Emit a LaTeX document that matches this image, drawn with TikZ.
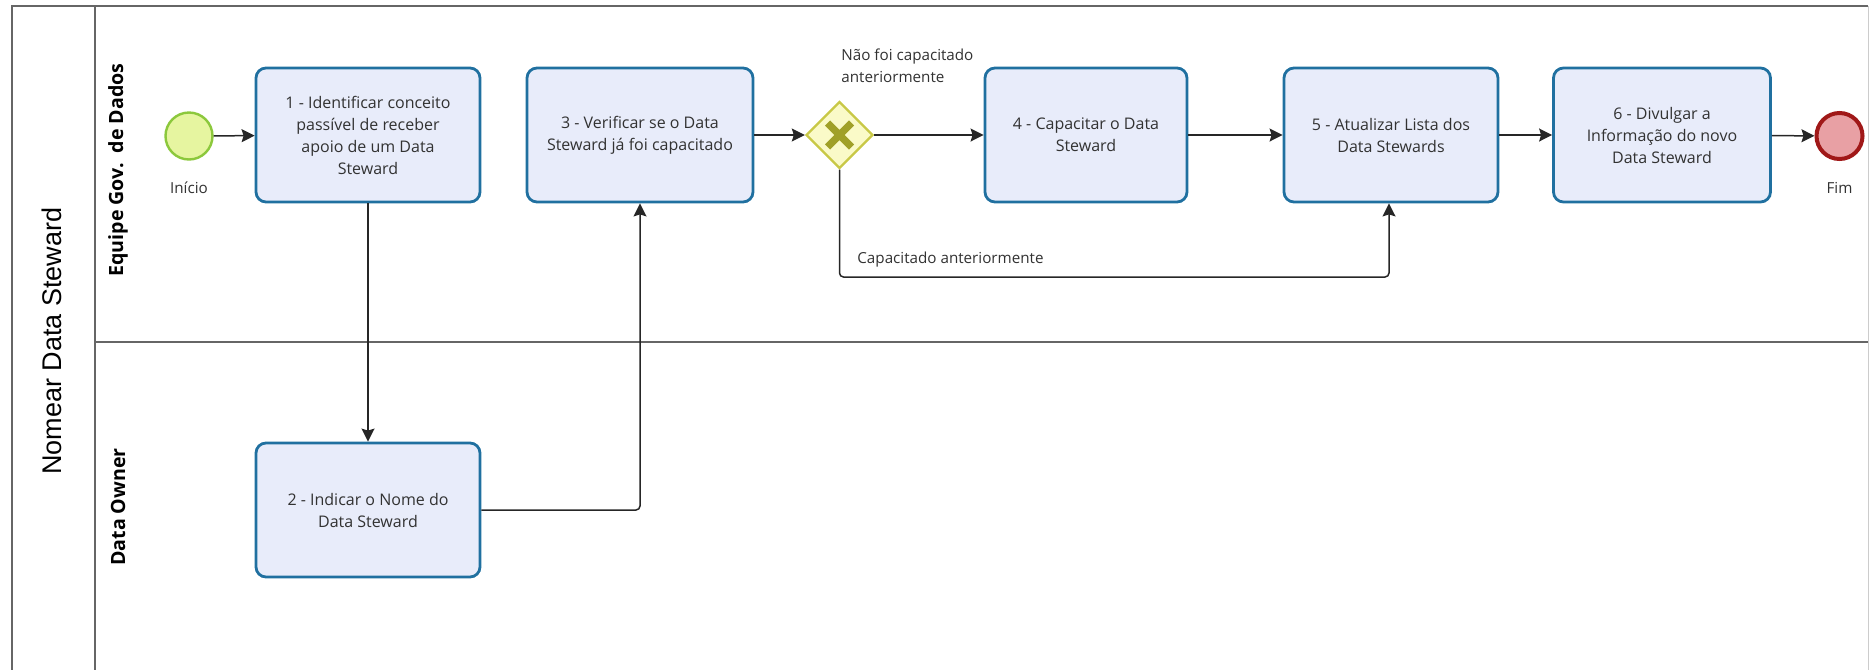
\documentclass[tikz,border=0pt]{standalone}
\usepackage{fontspec}
\setmainfont{Open Sans}
\newfontfamily\poolfont{Liberation Sans}
\usepackage{tikz}
\usetikzlibrary{positioning}
\usetikzlibrary{arrows.meta}
\usetikzlibrary{shapes.geometric}
\definecolor{taskfill}{RGB}{232,236,250}
\definecolor{taskline}{RGB}{32,112,160}
\definecolor{gwfill}{RGB}{250,250,200}
\definecolor{gwline}{RGB}{200,200,70}
\definecolor{gwmark}{RGB}{160,160,40}
\definecolor{startfill}{RGB}{230,245,160}
\definecolor{startline}{RGB}{140,200,60}
\definecolor{endfill}{RGB}{232,160,164}
\definecolor{endline}{RGB}{160,24,24}
\definecolor{txt}{RGB}{50,50,50}

\begin{document}
\begin{tikzpicture}[x=0.5pt,y=-0.5pt] %% bpmn pool, 1 unit = 1px
	\tikzstyle{pool}=[draw=black!60,line width=0.8pt]
	\tikzstyle{lane}=[rotate=90,font=\bfseries\fontsize{9.8}{12}\selectfont]
	\tikzstyle{task}=[draw=taskline,fill=taskfill,line width=1.4pt,rounded corners=5pt,minimum height=67pt,align=center,text=txt,font=\fontsize{8}{11}\selectfont]
	\tikzstyle{small}=[text=txt,font=\fontsize{7.6}{11}\selectfont]
	\tikzstyle{flow}=[draw=black!85,line width=0.75pt,rounded corners=2pt,-{Stealth[length=6.5pt,width=6.5pt,inset=1pt]}]
	\useasboundingbox (0,0) rectangle (1870,670);

	% pool and lanes
	\draw[pool] (1868,6) -- (12,6) -- (12,670);
	\draw[pool] (95,6) -- (95,670);
	\draw[pool] (95,342) -- (1868,342);
	\draw[black!20,line width=0.5pt] (1868,6) -- (1868,670);
	\node[rotate=90,font=\poolfont\fontsize{13.5}{16}\selectfont] (pool) at (52,341) {Nomear Data Steward};
	\node[lane] (laneA) at (118,170) {Equipe Gov.\ \ de Dados};
	\node[lane] (laneB) at (118,507) {Data Owner};

	% events and gateway
	\node[circle,draw=startline,fill=startfill,line width=1.2pt,minimum size=23.5pt,inner sep=0pt,
		label={[small,label distance=7pt]below:Início}] (start) at (189,136) {};
	\node[circle,draw=endline,fill=endfill,line width=2pt,minimum size=23pt,inner sep=0pt,
		label={[small,label distance=7pt]below:Fim}] (end) at (1839.5,136) {};
	\node[diamond,aspect=1,draw=gwline,fill=gwfill,line width=1.2pt,minimum size=33.5pt,inner sep=0pt] (gw) at (839.5,135) {};
	\draw[gwmark,line width=3.6pt] (gw.center) +(-6pt,-6pt) -- +(6pt,6pt) (gw.center) +(-6pt,6pt) -- +(6pt,-6pt);

	% tasks
	\node[task,minimum width=112pt] (t1) at (368,135) {1 - Identificar conceito\\passível de receber\\apoio de um Data\\Steward};
	\node[task,minimum width=112pt] (t2) at (368,510) {2 - Indicar o Nome do\\Data Steward};
	\node[task,minimum width=113pt] (t3) at (640,135) {3 - Verificar se o Data\\Steward já foi capacitado};
	\node[task,minimum width=101pt] (t4) at (1086,135) {4 - Capacitar o Data\\Steward};
	\node[task,minimum width=107pt] (t5) at (1391,135) {5 - Atualizar Lista dos\\Data Stewards};
	\node[task,minimum width=108.5pt] (t6) at (1662,135) {6 - Divulgar a\\Informação do novo\\Data Steward};

	% gateway labels
	\node[small,anchor=west,align=left,inner sep=0pt] (yes) at (841,66) {Não foi capacitado\\anteriormente};
	\node[small,anchor=west,inner sep=0pt] (no) at (857,260) {Capacitado anteriormente};
	\coordinate (loop) at (1389,277);

	% sequence flows
	\draw[flow] (start) -- (t1);
	\draw[flow] (t1) -- (t2);
	\draw[flow] (t2.east) -| (t3.south);
	\draw[flow] (t3) -- (gw);
	\draw[flow] (gw) -- (t4);
	\draw[flow] (gw.south) |- (loop) -- (loop |- t5.south);
	\draw[flow] (t4) -- (t5);
	\draw[flow] (t5) -- (t6);
	\draw[flow] (t6) -- (end);
\end{tikzpicture}
\end{document}
